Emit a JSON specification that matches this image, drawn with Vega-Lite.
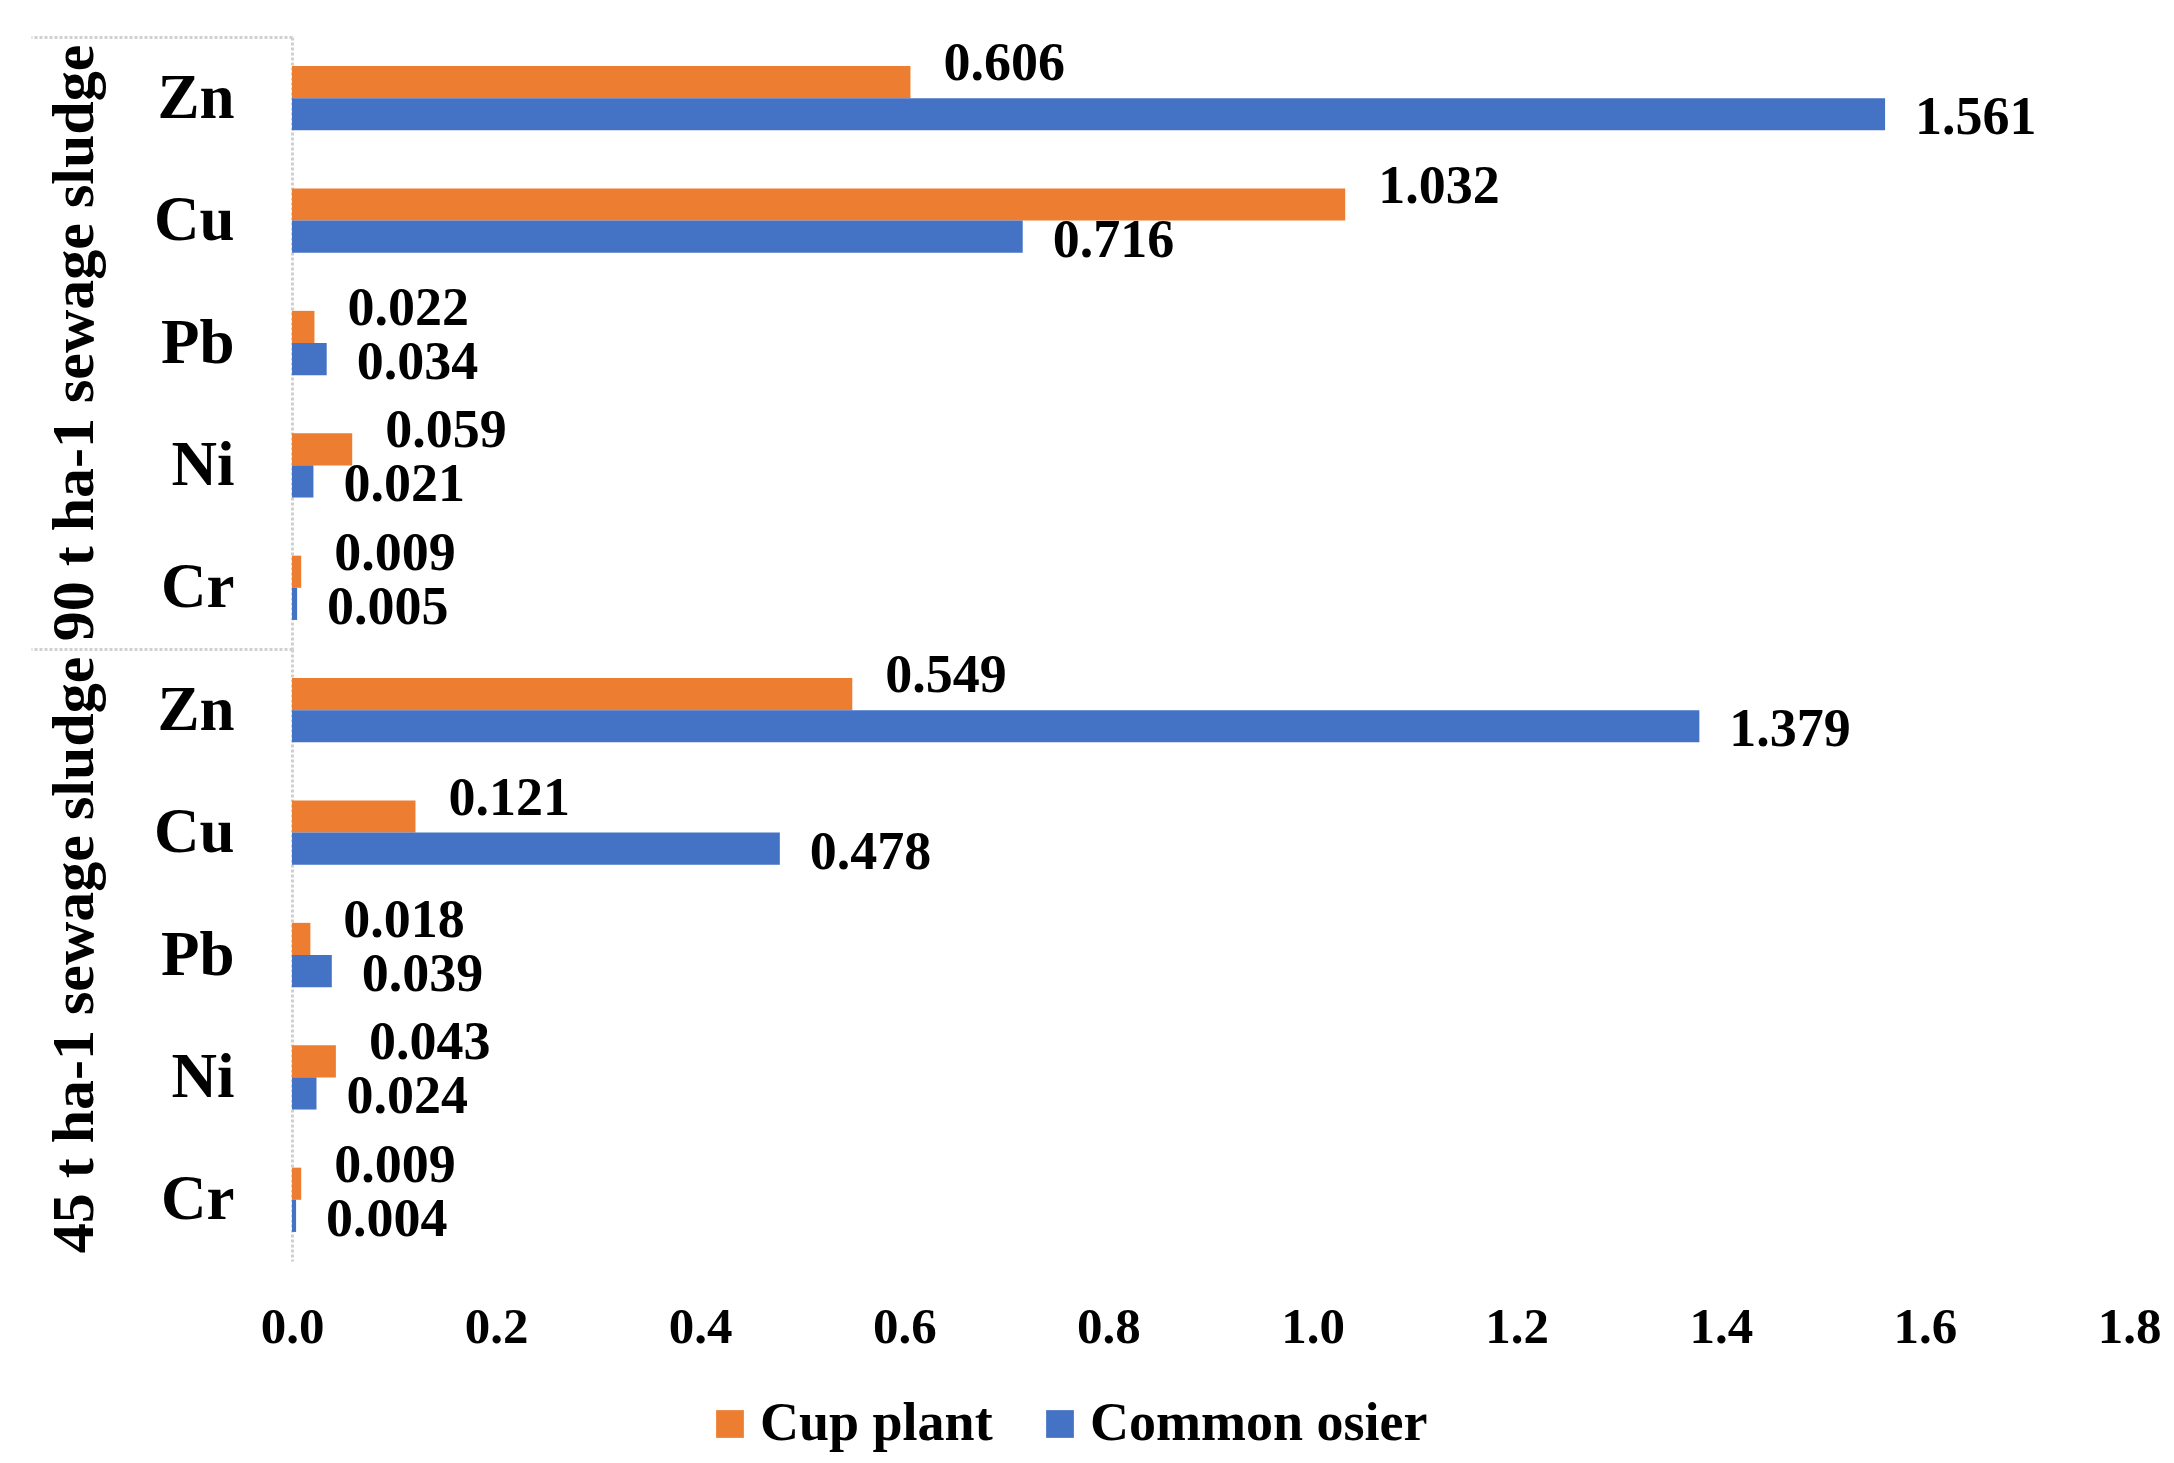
{
  "$schema": "https://vega.github.io/schema/vega-lite/v6.json",
  "background": "white",
  "padding": {"left": 29, "top": 35, "right": 30, "bottom": 5},
  "data": {
    "values": [
      {"group": "90 t ha-1 sewage sludge", "metal": "Zn", "plant": "Cup plant", "value": 0.606},
      {"group": "90 t ha-1 sewage sludge", "metal": "Zn", "plant": "Common osier", "value": 1.561},
      {"group": "90 t ha-1 sewage sludge", "metal": "Cu", "plant": "Cup plant", "value": 1.032},
      {"group": "90 t ha-1 sewage sludge", "metal": "Cu", "plant": "Common osier", "value": 0.716},
      {"group": "90 t ha-1 sewage sludge", "metal": "Pb", "plant": "Cup plant", "value": 0.022},
      {"group": "90 t ha-1 sewage sludge", "metal": "Pb", "plant": "Common osier", "value": 0.034},
      {"group": "90 t ha-1 sewage sludge", "metal": "Ni", "plant": "Cup plant", "value": 0.059},
      {"group": "90 t ha-1 sewage sludge", "metal": "Ni", "plant": "Common osier", "value": 0.021},
      {"group": "90 t ha-1 sewage sludge", "metal": "Cr", "plant": "Cup plant", "value": 0.009},
      {"group": "90 t ha-1 sewage sludge", "metal": "Cr", "plant": "Common osier", "value": 0.005},
      {"group": "45 t ha-1 sewage sludge", "metal": "Zn", "plant": "Cup plant", "value": 0.549},
      {"group": "45 t ha-1 sewage sludge", "metal": "Zn", "plant": "Common osier", "value": 1.379},
      {"group": "45 t ha-1 sewage sludge", "metal": "Cu", "plant": "Cup plant", "value": 0.121},
      {"group": "45 t ha-1 sewage sludge", "metal": "Cu", "plant": "Common osier", "value": 0.478},
      {"group": "45 t ha-1 sewage sludge", "metal": "Pb", "plant": "Cup plant", "value": 0.018},
      {"group": "45 t ha-1 sewage sludge", "metal": "Pb", "plant": "Common osier", "value": 0.039},
      {"group": "45 t ha-1 sewage sludge", "metal": "Ni", "plant": "Cup plant", "value": 0.043},
      {"group": "45 t ha-1 sewage sludge", "metal": "Ni", "plant": "Common osier", "value": 0.024},
      {"group": "45 t ha-1 sewage sludge", "metal": "Cr", "plant": "Cup plant", "value": 0.009},
      {"group": "45 t ha-1 sewage sludge", "metal": "Cr", "plant": "Common osier", "value": 0.004}
    ]
  },
  "facet": {
    "row": {
      "field": "group",
      "type": "nominal",
      "sort": ["90 t ha-1 sewage sludge", "45 t ha-1 sewage sludge"],
      "title": null,
      "header": {
        "labelAngle": -90,
        "labelOrient": "left",
        "labelFont": "Liberation Serif",
        "labelFontWeight": "bold",
        "labelFontSize": 60,
        "labelColor": "black",
        "labelPadding": -105
      }
    }
  },
  "spacing": {"row": 0},
  "spec": {
    "width": 1837,
    "height": 612,
    "encoding": {
      "y": {
        "field": "metal",
        "type": "nominal",
        "sort": ["Zn", "Cu", "Pb", "Ni", "Cr"],
        "scale": {"paddingInner": 0.475, "paddingOuter": 0.2375},
        "axis": {
          "title": null,
          "ticks": true,
          "tickSize": 261,
          "tickWidth": 3,
          "tickDash": [3, 2],
          "tickOffset": -61.2,
          "labelOffset": 61.2,
          "tickColor": {"condition": {"test": "datum.value === 'Zn'", "value": "#d0d0d0"}, "value": "transparent"},
          "domain": true,
          "domainColor": "#d0d0d0",
          "domainWidth": 3,
          "domainDash": [3, 2],
          "labelFont": "Liberation Serif",
          "labelFontWeight": "bold",
          "labelFontSize": 63,
          "labelColor": "black",
          "labelPadding": -203
        }
      },
      "yOffset": {
        "field": "plant",
        "type": "nominal",
        "sort": ["Cup plant", "Common osier"],
        "scale": {"paddingInner": 0, "paddingOuter": 0}
      },
      "x": {
        "field": "value",
        "type": "quantitative",
        "scale": {"domain": [0, 1.8], "nice": false},
        "axis": {
          "title": null,
          "grid": false,
          "domain": false,
          "ticks": false,
          "labelFlush": false,
          "values": [0, 0.2, 0.4, 0.6, 0.8, 1.0, 1.2, 1.4, 1.6, 1.8],
          "format": ".1f",
          "labelFont": "Liberation Serif",
          "labelFontWeight": "bold",
          "labelFontSize": 51,
          "labelColor": "black",
          "labelPadding": 41
        }
      }
    },
    "layer": [
      {
        "mark": {"type": "bar"},
        "encoding": {
          "color": {
            "field": "plant",
            "type": "nominal",
            "sort": ["Cup plant", "Common osier"],
            "scale": {"domain": ["Cup plant", "Common osier"], "range": ["#ED7D31", "#4472C4"]},
            "legend": {
              "title": null,
              "orient": "none",
              "legendX": 411,
              "legendY": 1360,
              "direction": "horizontal",
              "symbolType": "square",
              "symbolSize": 770,
              "labelFont": "Liberation Serif",
              "labelFontWeight": "bold",
              "labelFontSize": 54,
              "labelColor": "black",
              "labelLimit": 0,
              "labelOffset": 3,
              "columnPadding": 40
            }
          }
        }
      },
      {
        "transform": [{"filter": "datum.plant === 'Cup plant'"}],
        "mark": {"type": "text", "align": "left", "baseline": "middle", "dx": 33, "dy": -18, "font": "Liberation Serif", "fontWeight": "bold", "fontSize": 54, "color": "black"},
        "encoding": {"text": {"field": "value", "type": "quantitative", "format": ".3f"}}
      },
      {
        "transform": [{"filter": "datum.plant === 'Common osier'"}],
        "mark": {"type": "text", "align": "left", "baseline": "middle", "dx": 30, "dy": 4, "font": "Liberation Serif", "fontWeight": "bold", "fontSize": 54, "color": "black"},
        "encoding": {"text": {"field": "value", "type": "quantitative", "format": ".3f"}}
      }
    ]
  },
  "config": {"view": {"stroke": null}}
}
